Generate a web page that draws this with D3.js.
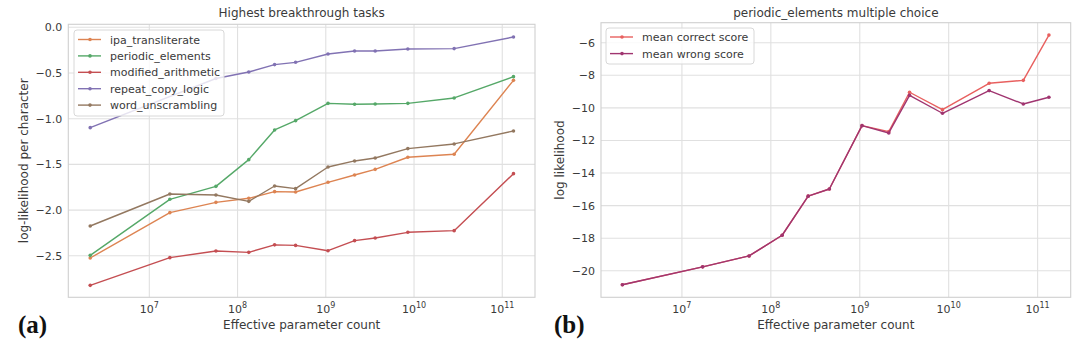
<!DOCTYPE html>
<html>
<head>
<meta charset="utf-8">
<script src="https://cdn.jsdelivr.net/npm/d3@7"></script>
<style>
  html, body { margin: 0; padding: 0; background: #fff; }
  svg { display: block; font-family: "DejaVu Sans", sans-serif; }
</style>
</head>
<body>
<svg id="chart" width="1080" height="344"></svg>
<script>
// ---------- data ----------
const params = [2.14e6, 1.71e7, 5.69e7, 1.34e8, 2.63e8, 4.55e8, 1.06e9, 2.12e9, 3.63e9, 8.51e9, 2.85e10, 6.9e10, 1.34e11];

const leftSeriesNames = ["ipa_transliterate", "periodic_elements", "modified_arithmetic", "repeat_copy_logic", "word_unscrambling"];
const ipaTransliterate   = [-2.524, -2.028, -1.915, -1.871, -1.798, -1.802, -1.696, -1.616, -1.554, -1.422, -1.389, null, -0.580];
const periodicElements   = [-2.495, -1.882, -1.740, -1.448, -1.123, -1.021, -0.832, -0.842, -0.839, -0.832, -0.773, null, -0.540];
const modifiedArithmetic = [-2.823, -2.520, -2.448, -2.462, -2.380, -2.386, -2.444, -2.334, -2.305, -2.243, -2.225, null, -1.601];
const repeatCopyLogic    = [-1.098, null, -0.560, -0.489, -0.408, -0.383, -0.292, -0.259, -0.259, -0.237, -0.233, null, -0.106];
const wordUnscrambling   = [-2.174, -1.824, -1.835, -1.904, -1.736, -1.765, -1.528, -1.462, -1.430, -1.327, -1.276, null, -1.134];
const leftColors = ["#dd8452", "#55a868", "#c44e52", "#8172b3", "#937860"];

const rightSeriesNames = ["mean correct score", "mean wrong score"];
const meanCorrect = [-20.86, -19.76, -19.09, -17.82, -15.42, -14.98, -11.09, -11.46, -9.04, -10.11, -8.49, -8.31, -5.53];
const meanWrong   = [-20.86, -19.76, -19.09, -17.82, -15.42, -14.98, -11.09, -11.54, -9.23, -10.33, -8.94, -9.76, -9.35];
const rightColors = ["#e8605f", "#a03570"];

const xTicks = [1e7, 1e8, 1e9, 1e10, 1e11];
const xTickExp = ["7", "8", "9", "10", "11"];
const leftYTicks = [0, -0.5, -1.0, -1.5, -2.0, -2.5];
const rightYTicks = [-6, -8, -10, -12, -14, -16, -18, -20];

const titles = ["Highest breakthrough tasks", "periodic_elements multiple choice"];
const yLabels = ["log-likelihood per character", "log likelihood"];
const xLabel = "Effective parameter count";
const panelLabels = ["(a)", "(b)"];

// ---------- drawing ----------
const svg = d3.select("#chart");
const TXT = "#3a3a3a";
const GRID = "#e0e0e0";
const SPINE = "#cfcfcf";

function panel(cfg) {
  const x = d3.scaleLog().domain(cfg.xDomain).range([cfg.left, cfg.right]);
  const y = d3.scaleLinear().domain(cfg.yDomain).range([cfg.bottom, cfg.top]);
  const g = svg.append("g");

  // grid
  g.append("g").selectAll("line").data(cfg.yTicks).join("line")
    .attr("x1", cfg.left).attr("x2", cfg.right)
    .attr("y1", d => y(d)).attr("y2", d => y(d))
    .attr("stroke", GRID).attr("stroke-width", 1.1);
  g.append("g").selectAll("line").data(xTicks).join("line")
    .attr("y1", cfg.top).attr("y2", cfg.bottom)
    .attr("x1", d => x(d)).attr("x2", d => x(d))
    .attr("stroke", GRID).attr("stroke-width", 1.1);

  // spines
  g.append("rect").attr("x", cfg.left).attr("y", cfg.top)
    .attr("width", cfg.right - cfg.left).attr("height", cfg.bottom - cfg.top)
    .attr("fill", "none").attr("stroke", SPINE).attr("stroke-width", 1.1);

  // y tick labels
  g.append("g").selectAll("text").data(cfg.yTicks).join("text")
    .attr("x", cfg.left - 6).attr("y", d => y(d) + 4)
    .attr("text-anchor", "end").attr("font-size", 11).attr("fill", TXT)
    .text(d => cfg.yFmt(d).replace("-", "\u2212"));

  // x tick labels with superscripts
  const xl = g.append("g").selectAll("text").data(xTicks).join("text")
    .attr("x", d => x(d)).attr("y", cfg.bottom + 16)
    .attr("text-anchor", "middle").attr("font-size", 11).attr("fill", TXT);
  xl.append("tspan").text("10");
  xl.append("tspan").attr("dy", -5).attr("font-size", 8).text((d, i) => xTickExp[i]);

  // title
  g.append("text").attr("x", (cfg.left + cfg.right) / 2).attr("y", 17)
    .attr("text-anchor", "middle").attr("font-size", 12).attr("fill", TXT).text(cfg.title);
  // x label
  g.append("text").attr("x", (cfg.left + cfg.right) / 2).attr("y", 329)
    .attr("text-anchor", "middle").attr("font-size", 12).attr("fill", TXT).text(xLabel);
  // y label
  g.append("text")
    .attr("transform", `translate(${cfg.yLabelX},${(cfg.top + cfg.bottom) / 2}) rotate(-90)`)
    .attr("text-anchor", "middle").attr("font-size", 12).attr("fill", TXT).text(cfg.yLabel);
  // panel label
  g.append("text").attr("x", cfg.panelX).attr("y", 333)
    .attr("font-family", "'Liberation Serif', 'DejaVu Serif', serif")
    .attr("font-weight", "bold").attr("font-size", 25).attr("fill", "#111").text(cfg.panelLabel);

  // series
  const line = d3.line()
    .defined(d => d[1] !== null)
    .x(d => x(d[0])).y(d => y(d[1]));
  cfg.series.forEach((vals, i) => {
    const pts = params.map((p, j) => [p, vals[j]]);
    const valid = pts.filter(d => d[1] !== null);
    g.append("path").datum(valid).attr("d", line)
      .attr("fill", "none").attr("stroke", cfg.colors[i]).attr("stroke-width", 1.4)
      .attr("stroke-linejoin", "round");
    g.append("g").selectAll("circle").data(valid).join("circle")
      .attr("cx", d => x(d[0])).attr("cy", d => y(d[1])).attr("r", 1.8)
      .attr("fill", cfg.colors[i]);
  });

  // legend
  const L = cfg.legend;
  const lg = g.append("g");
  lg.append("rect").attr("x", L.x).attr("y", L.y).attr("width", L.w).attr("height", L.h)
    .attr("rx", 3).attr("fill", "rgba(255,255,255,0.8)").attr("stroke", "#d8d8d8").attr("stroke-width", 1);
  cfg.names.forEach((name, i) => {
    const yy = L.y + L.first + i * L.step;
    lg.append("line").attr("x1", L.x + 4).attr("x2", L.x + 27).attr("y1", yy).attr("y2", yy)
      .attr("stroke", cfg.colors[i]).attr("stroke-width", 1.4);
    lg.append("circle").attr("cx", L.x + 16).attr("cy", yy).attr("r", 1.8).attr("fill", cfg.colors[i]);
    lg.append("text").attr("x", L.x + 36).attr("y", yy + 4).attr("font-size", 11)
      .attr("fill", TXT).text(name);
  });
}

panel({
  left: 68.3, right: 535, top: 24.3, bottom: 297.3,
  xDomain: [Math.pow(10, 6.082), Math.pow(10, 11.371)],
  yDomain: [-2.954, 0.033],
  yTicks: leftYTicks, yFmt: d3.format(".1f"),
  title: titles[0], yLabel: yLabels[0], yLabelX: 28,
  panelLabel: panelLabels[0], panelX: 18,
  series: [ipaTransliterate, periodicElements, modifiedArithmetic, repeatCopyLogic, wordUnscrambling],
  names: leftSeriesNames, colors: leftColors,
  legend: { x: 74, y: 30, w: 150, h: 86, first: 9.5, step: 16.4 }
});

panel({
  left: 601, right: 1070.7, top: 22.7, bottom: 297.3,
  xDomain: [Math.pow(10, 6.09), Math.pow(10, 11.372)],
  yDomain: [-21.63, -4.77],
  yTicks: rightYTicks, yFmt: d3.format("d"),
  title: titles[1], yLabel: yLabels[1], yLabelX: 564,
  panelLabel: panelLabels[1], panelX: 554,
  series: [meanCorrect, meanWrong],
  names: rightSeriesNames, colors: rightColors,
  legend: { x: 606, y: 28, w: 148, h: 36, first: 9, step: 16.6 }
});
</script>
</body>
</html>
